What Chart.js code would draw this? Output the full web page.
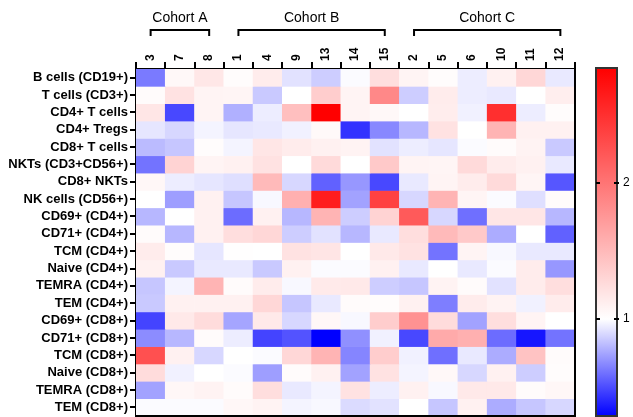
<!DOCTYPE html>
<html>
<head>
<meta charset="utf-8">
<script src="https://cdn.jsdelivr.net/npm/chart.js@4/dist/chart.umd.min.js"></script>
<style>
 body{margin:0;background:#fff;}
 #wrap{position:relative;width:633px;height:417px;}
 #heat{position:absolute;left:0;top:0;}
 #bar{position:absolute;left:580px;top:0;}
</style>
</head>
<body>
<div id="wrap">
 <canvas id="heat" width="633" height="417"></canvas>
 <canvas id="bar" width="53" height="417"></canvas>
</div>
<script>
const COLUMNS=["3","7","8","1","4","9","13","14","15","2","5","6","10","11","12"];
const ROWS=["B cells (CD19+)","T cells (CD3+)","CD4+ T cells","CD4+ Tregs","CD8+ T cells","NKTs (CD3+CD56+)","CD8+ NKTs","NK cells (CD56+)","CD69+ (CD4+)","CD71+ (CD4+)","TCM (CD4+)","Naive (CD4+)","TEMRA (CD4+)","TEM (CD4+)","CD69+ (CD8+)","CD71+ (CD8+)","TCM (CD8+)","Naive (CD8+)","TEMRA (CD8+)","TEM (CD8+)"];
const VALUES=[
 [0.63,1.05,1.17,1.02,1.14,0.92,0.86,0.99,1.24,1.08,1.02,0.95,1.10,1.29,0.94],
 [1.03,1.21,1.08,1.07,0.85,1.00,1.36,1.08,1.86,0.86,1.14,0.95,0.94,1.00,1.12],
 [1.18,0.49,1.08,0.78,0.95,1.46,2.84,1.08,1.05,1.00,1.13,0.96,2.50,0.95,1.02],
 [0.93,0.89,0.97,0.93,0.94,0.96,1.04,0.43,0.67,0.80,1.21,1.00,1.54,1.10,1.10],
 [0.81,0.84,1.02,0.97,1.18,1.14,1.10,1.09,0.92,0.95,0.93,0.99,1.03,1.09,0.85],
 [0.61,1.32,1.08,1.10,1.21,1.00,1.27,1.00,1.39,1.08,1.07,1.27,1.14,1.10,0.94],
 [1.06,0.95,0.93,0.91,1.50,0.89,0.56,0.71,0.49,0.94,1.08,1.14,1.27,1.07,0.53],
 [1.00,0.73,1.10,0.84,0.98,1.57,2.63,0.74,2.37,0.89,1.54,1.07,0.99,0.91,1.03],
 [0.80,1.00,1.10,0.59,1.10,0.80,1.54,0.86,1.32,2.19,0.89,0.60,1.18,1.18,0.80],
 [1.03,0.80,1.10,1.24,1.29,0.86,0.92,0.80,0.94,1.24,1.50,1.39,0.77,1.00,0.56],
 [1.14,1.02,0.93,1.01,1.00,1.21,1.19,1.00,1.16,1.21,0.61,1.08,0.98,0.94,0.94],
 [1.10,0.85,0.94,0.94,0.85,1.10,0.99,0.99,1.10,0.94,1.00,0.94,0.99,1.14,0.71],
 [0.84,0.97,1.54,1.03,1.14,0.98,1.15,1.16,0.86,0.84,1.09,1.03,0.92,1.14,1.24],
 [0.85,1.10,1.10,1.10,1.29,0.84,0.94,1.03,1.02,1.10,0.64,1.14,1.09,0.96,1.14],
 [0.48,1.16,1.25,0.75,1.16,0.89,1.06,0.98,1.36,1.79,1.25,0.74,1.24,1.08,1.00],
 [0.68,0.80,1.03,0.95,0.48,0.52,0.29,0.69,0.96,0.49,1.61,1.57,0.59,0.35,0.61],
 [2.26,1.10,0.89,1.00,0.99,1.29,1.54,0.66,1.36,0.96,0.60,0.94,0.77,1.43,1.03],
 [1.25,0.96,1.00,0.99,0.73,1.03,1.10,0.74,1.21,0.97,1.05,0.89,1.10,0.86,1.02],
 [0.74,1.06,1.09,1.03,1.24,0.94,0.97,1.21,0.95,1.10,0.98,1.16,1.16,1.03,1.06],
 [0.99,0.99,0.99,1.06,1.09,0.97,0.98,0.90,0.92,1.00,0.84,1.10,0.77,0.84,0.89]
];
const COHORTS=["Cohort A","Cohort B","Cohort C"];
const COHORT_FIRST=["3","1","2"];
const COHORT_LAST=["8","15","12"];
const SCALE_MIN=0.29, SCALE_MAX=2.84;
const SCALE_TICKS=[1,2];

const FONT='"Liberation Sans", Arial, Helvetica, sans-serif';

function cellColor(v){
 if(v<1){
  const t=Math.min(1,(1-v)/(1-SCALE_MIN));
  const c=Math.round(255*(1-t));
  return `rgb(${c},${c},255)`;
 }
 const t=Math.min(1,(v-1)/(SCALE_MAX-1));
 const c=Math.round(255*(1-t));
 return `rgb(255,${c},${c})`;
}

// no extra room for edge labels
function noPad(s){s.paddingTop=0;s.paddingBottom=0;s.paddingLeft=0;s.paddingRight=0;}

// frame + cohort brackets
const heatDecor={
 id:"heatDecor",
 afterDraw(chart){
  const ctx=chart.ctx, a=chart.chartArea, x=chart.scales.x;
  ctx.save();
  ctx.strokeStyle="#000";
  ctx.lineWidth=2;
  ctx.beginPath();
  ctx.moveTo(a.right,a.top);ctx.lineTo(a.right,a.bottom);ctx.lineTo(a.left,a.bottom);
  ctx.stroke();
  ctx.font="14px "+FONT;
  ctx.fillStyle="#000";
  ctx.textAlign="center";
  ctx.textBaseline="middle";
  COHORTS.forEach((name,i)=>{
   const x1=x.getPixelForValue(COLUMNS.indexOf(COHORT_FIRST[i]));
   const x2=x.getPixelForValue(COLUMNS.indexOf(COHORT_LAST[i]));
   ctx.beginPath();
   ctx.moveTo(x1,36);ctx.lineTo(x1,30);ctx.lineTo(x2,30);ctx.lineTo(x2,36);
   ctx.stroke();
   ctx.fillText(name,(x1+x2)/2,18);
  });
  ctx.restore();
 }
};

new Chart(document.getElementById("heat"),{
 type:"bar",
 data:{
  labels:COLUMNS,
  datasets:ROWS.map((name,r)=>({
   label:name,
   data:COLUMNS.map(()=>[r,r+1]),
   backgroundColor:VALUES[r].map(cellColor),
   borderWidth:0,
   barPercentage:1,
   categoryPercentage:1,
   grouped:false
  }))
 },
 options:{
  responsive:false,
  animation:false,
  layout:{padding:{left:0,top:0,right:58,bottom:1}},
  plugins:{legend:{display:false},tooltip:{enabled:false}},
  scales:{
   x:{
    position:"top",
    afterFit:s=>{s.height=69;noPad(s);},
    grid:{drawOnChartArea:false,tickLength:7,color:"#000",lineWidth:2},
    border:{color:"#000",width:2},
    ticks:{autoSkip:false,minRotation:90,maxRotation:90,padding:1,labelOffset:14,color:"#000",font:{family:FONT,size:12,weight:"bold"}}
   },
   y:{
    min:0,max:ROWS.length,reverse:true,
    afterFit:s=>{s.width=136;noPad(s);},
    afterBuildTicks:s=>{s.ticks=ROWS.map((_,i)=>({value:i+0.5}));},
    grid:{drawOnChartArea:false,tickLength:6,color:"#000",lineWidth:2},
    border:{color:"#000",width:2},
    ticks:{autoSkip:false,padding:2,color:"#000",font:{family:FONT,size:13,weight:"bold"},callback:v=>ROWS[Math.floor(v)]}
   }
  }
 },
 plugins:[heatDecor]
});

// colour bar
const barFill={
 id:"barFill",
 beforeDraw(chart){
  const ctx=chart.ctx, a=chart.chartArea, y=chart.scales.y;
  const g=ctx.createLinearGradient(0,y.getPixelForValue(SCALE_MIN),0,y.getPixelForValue(SCALE_MAX));
  g.addColorStop(0,"rgb(0,0,255)");
  g.addColorStop((1-SCALE_MIN)/(SCALE_MAX-SCALE_MIN),"rgb(255,255,255)");
  g.addColorStop(1,"rgb(255,0,0)");
  ctx.save();
  ctx.fillStyle=g;
  ctx.fillRect(a.left,a.top,a.right-a.left,a.bottom-a.top);
  ctx.strokeStyle="#333";
  ctx.lineWidth=2;
  ctx.strokeRect(a.left,a.top,a.right-a.left,a.bottom-a.top);
  ctx.strokeStyle="#000";
  SCALE_TICKS.forEach(v=>{
   const py=Math.round(y.getPixelForValue(v));
   ctx.beginPath();
   ctx.moveTo(a.left,py);ctx.lineTo(a.left+4,py);
   ctx.moveTo(a.right-3,py);ctx.lineTo(a.right+2,py);
   ctx.stroke();
  });
  ctx.restore();
 }
};

new Chart(document.getElementById("bar"),{
 type:"bar",
 data:{labels:[""],datasets:[{data:[]}]},
 options:{
  responsive:false,
  animation:false,
  layout:{padding:{left:16,top:68,right:0,bottom:1}},
  plugins:{legend:{display:false},tooltip:{enabled:false}},
  scales:{
   x:{display:false},
   y:{
    position:"right",
    min:SCALE_MIN,max:SCALE_MAX,
    afterFit:s=>{s.width=16;noPad(s);},
    afterBuildTicks:s=>{s.ticks=SCALE_TICKS.map(v=>({value:v}));},
    grid:{display:false,drawTicks:false},
    border:{display:false},
    ticks:{padding:6,color:"#000",font:{family:FONT,size:12}}
   }
  }
 },
 plugins:[barFill]
});
</script>
</body>
</html>
